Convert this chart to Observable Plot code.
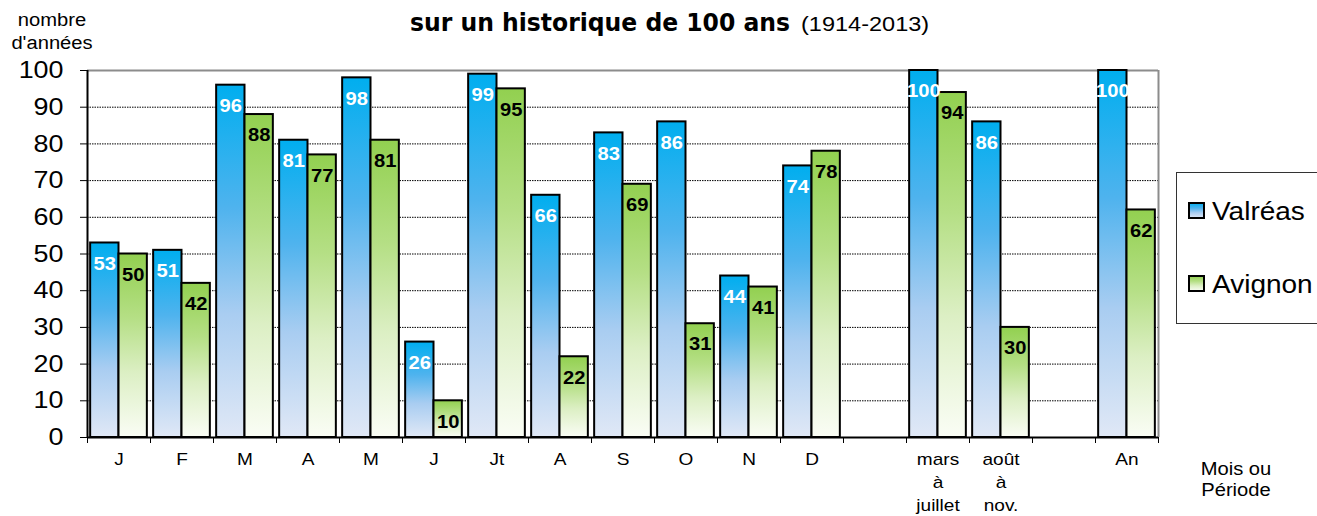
<!DOCTYPE html>
<html><head><meta charset="utf-8">
<script src="https://cdn.jsdelivr.net/npm/d3@7"></script>
<script src="https://cdn.jsdelivr.net/npm/@observablehq/plot@0.6"></script>
<style>body{margin:0;background:#fff;overflow:hidden} svg{display:block}</style>
</head><body><div id="chart"></div>
<script>
const categories = ["J","F","M","A","M","J","Jt","A","S","O","N","D","","mars\nà\njuillet","août\nà\nnov.","","An"];
const valreas = [53,51,96,81,98,26,99,66,83,86,44,74,null,100,86,null,100];
const avignon = [50,42,88,77,81,10,95,22,69,31,41,78,null,94,30,null,62];
const seriesNames = ["Valréas","Avignon"];
const yTicks = d3.range(0, 101, 10);
const titleMain = "sur un historique de 100 ans";
const titleSub = "(1914-2013)";
const yLabel = ["nombre","d'années"];
const xLabel = ["Mois ou","Période"];

const rows = [];
categories.forEach((c, i) => {
  if (valreas[i] != null) rows.push({i, series: "Valréas", slot: 0, value: valreas[i]});
  if (avignon[i] != null) rows.push({i, series: "Avignon", slot: 1, value: avignon[i]});
});
const V = rows.filter(d => d.slot === 0);
const A = rows.filter(d => d.slot === 1);
const catRows = categories.map((c, i) => ({c, i})).filter(d => d.c);
const n = categories.length;

const x1 = d => d.i + 0.05 + 0.45 * d.slot;
const x2 = d => d.i + 0.5 + 0.45 * d.slot;
const xm = d => d.i + 0.275 + 0.45 * d.slot;

const chart = Plot.plot({
  width: 1317, height: 516,
  marginTop: 70, marginBottom: 79, marginLeft: 87, marginRight: 159,
  style: {fontFamily: "'Liberation Sans', Arial, sans-serif", background: "#fff", color: "#000", overflow: "visible"},
  x: {domain: [0, n], axis: null},
  y: {domain: [0, 100], axis: null},
  marks: [
    Plot.ruleY(yTicks.filter(t => t > 0 && t < 100), {stroke: "#000", strokeWidth: 1, strokeDasharray: "1.5,1"}),
    Plot.ruleY([100], {stroke: "#8c8c8c", strokeWidth: 2}),
    Plot.ruleX([n], {stroke: "#8c8c8c", strokeWidth: 2}),
    Plot.rectY(V, {x1, x2, y: "value", fill: "url(#gV)", stroke: "#000", strokeWidth: 2}),
    Plot.rectY(A, {x1, x2, y: "value", fill: "url(#gA)", stroke: "#000", strokeWidth: 2}),
    Plot.ruleX([0], {stroke: "#000", strokeWidth: 2}),
    Plot.ruleY([0], {stroke: "#000", strokeWidth: 2}),
    Plot.axisY(yTicks, {anchor: "left", tickSize: 7, tickPadding: 17, fontSize: 24, stroke: "#000", label: null}),
    Plot.axisX(d3.range(0, n + 1), {anchor: "bottom", tickSize: 6, tickFormat: () => "", stroke: "#000", label: null}),
    Plot.text(catRows, {x: d => d.i + 0.5, y: 0, text: "c", lineAnchor: "top", dy: 11, fontSize: 17, lineHeight: 1.35, fill: "#000"}),
    Plot.text(V, {x: xm, y: "value", text: d => String(d.value), dy: 21, fill: "#fff", fontWeight: "bold", fontSize: 18}),
    Plot.text(A, {x: xm, y: "value", text: d => String(d.value), dy: 21, fill: "#000", fontWeight: "bold", fontSize: 18})
  ]
});

const svg = d3.select(chart);
const defs = svg.insert("defs", ":first-child");
function grad(id, stops) {
  const g = defs.append("linearGradient").attr("id", id).attr("x1", 0).attr("y1", 0).attr("x2", 0).attr("y2", 1);
  stops.forEach(([o, c]) => g.append("stop").attr("offset", o).attr("stop-color", c));
}
grad("gV", [[0, "#00aeef"], [0.35, "#4fb3ee"], [0.65, "#a9cdf1"], [1, "#e0e8f6"]]);
grad("gA", [[0, "#92d050"], [0.35, "#b5df85"], [0.65, "#dcefc4"], [1, "#fafdf5"]]);

// Title
const t = svg.append("text").attr("y", 31).attr("fill", "#000").attr("text-anchor", "start");
t.append("tspan").attr("x", 410).attr("font-family", "'DejaVu Sans Condensed','DejaVu Sans',sans-serif")
  .attr("font-weight", "bold").attr("font-size", 25).attr("textLength", 380).attr("lengthAdjust", "spacingAndGlyphs").text(titleMain);
svg.append("text").attr("x", 801).attr("y", 31).attr("text-anchor", "start").attr("font-size", 21).attr("fill", "#000").text(titleSub);

// Y label
yLabel.forEach((s, k) => svg.append("text").attr("x", 52).attr("y", 26 + k * 23).attr("text-anchor", "middle").attr("font-size", 18).attr("fill", "#000").text(s));
// X label
xLabel.forEach((s, k) => svg.append("text").attr("x", 1236).attr("y", 475 + k * 21).attr("text-anchor", "middle").attr("font-size", 18).attr("fill", "#000").text(s));

// Legend
const lg = svg.append("g");
lg.append("rect").attr("x", 1176.5).attr("y", 172.5).attr("width", 160).attr("height", 151).attr("fill", "#fff").attr("stroke", "#333").attr("stroke-width", 1);
seriesNames.forEach((s, k) => {
  const base = 220 + k * 73;
  lg.append("rect").attr("x", 1189).attr("y", base - 17).attr("width", 15).attr("height", 15)
    .attr("fill", k === 0 ? "url(#gV)" : "url(#gA)").attr("stroke", "#000").attr("stroke-width", 2);
  lg.append("text").attr("x", 1212).attr("y", base).attr("text-anchor", "start").attr("font-size", 25).attr("fill", "#000").text(s);
});

document.getElementById("chart").append(chart);

// the reference's lettering is slightly wide: stretch text horizontally
const SX = 1.12;
svg.selectAll("text").each(function() {
  if (this.hasAttribute("textLength")) return;
  const tspans = this.querySelectorAll("tspan");
  const els = tspans.length ? Array.from(tspans) : [this];
  els.forEach(el => {
    if (el.hasAttribute("textLength")) return;
    const L = el.getComputedTextLength();
    if (L > 0) { el.setAttribute("textLength", L * SX); el.setAttribute("lengthAdjust", "spacingAndGlyphs"); }
  });
});
</script>
</body></html>
